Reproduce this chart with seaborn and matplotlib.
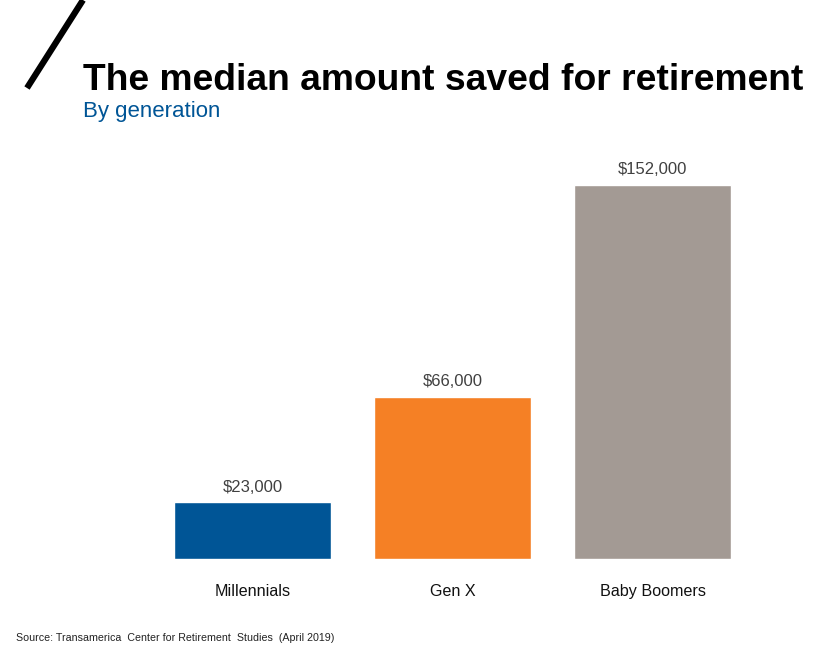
import matplotlib
matplotlib.use("Agg")
import matplotlib.pyplot as plt
from matplotlib.lines import Line2D
import seaborn as sns
import pandas as pd

categories = ["Millennials", "Gen X", "Baby Boomers"]
values = [23000, 66000, 152000]
value_labels = ["$23,000", "$66,000", "$152,000"]
colors = ["#005596", "#F58025", "#A39A94"]

sns.set_theme(style="white")
plt.rcParams["font.family"] = ["Liberation Sans", "DejaVu Sans"]

W, H = 819, 651
fig = plt.figure(figsize=(W / 100, H / 100), dpi=100)
ax = fig.add_axes([152.5 / W, (H - 559) / H, 600 / W, 418.3 / H])

df = pd.DataFrame({"cat": categories, "val": values})
sns.barplot(data=df, x="cat", y="val", hue="cat", palette=colors, width=0.785,
            legend=False, ax=ax, saturation=1)
ax.set_xlim(-0.5, 2.5)
ax.set_ylim(0, 170000)
for i, (v, lab) in enumerate(zip(values, value_labels)):
    ax.annotate(lab, (i, v), xytext=(0, 5.5), textcoords="offset points",
                ha="center", va="bottom", fontsize=12, color="#404040")
ax.set_xlabel("")
ax.set_ylabel("")
ax.set_yticks([])
ax.tick_params(axis="x", length=0, pad=18, labelsize=11.6, labelcolor="#111111")
for s in ax.spines.values():
    s.set_visible(False)

fig.text(83 / W, 1 - 90 / H, "The median amount saved for retirement",
         fontsize=26.8, fontweight="bold", color="black", ha="left", va="baseline")
fig.text(83 / W, 1 - 117 / H, "By generation", fontsize=16, color="#005596",
         ha="left", va="baseline")
fig.text(16 / W, 1 - 641 / H, "Source: Transamerica  Center for Retirement  Studies  (April 2019)",
         fontsize=7.7, color="#222222", ha="left", va="baseline",
         family=["Liberation Sans Narrow", "Liberation Sans", "DejaVu Sans"])
fig.add_artist(Line2D([27 / W, 83 / W], [1 - 88 / H, 1.0], color="black", lw=4.5,
                      transform=fig.transFigure, solid_capstyle="butt"))

fig.savefig("out.png", dpi=100)
